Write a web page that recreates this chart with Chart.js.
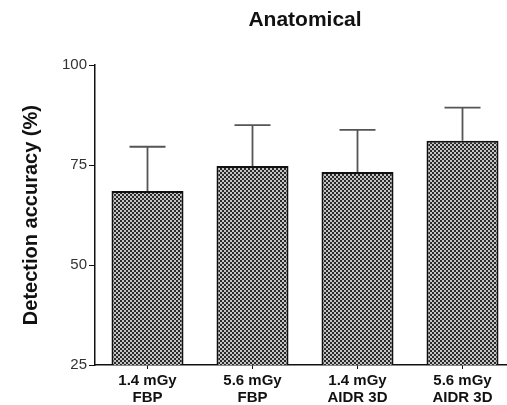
<!DOCTYPE html>
<html>
<head>
<meta charset="utf-8">
<script src="https://cdn.jsdelivr.net/npm/chart.js@4.4.1/dist/chart.umd.min.js"></script>
<style>
  html, body { margin: 0; padding: 0; background: #fff; overflow: hidden; }
  #wrap { width: 520px; height: 405px; }
</style>
</head>
<body>
<div id="wrap"><canvas id="accChart"></canvas></div>
<script>
// chart values
const categories = [['1.4 mGy', 'FBP'], ['5.6 mGy', 'FBP'], ['1.4 mGy', 'AIDR 3D'], ['5.6 mGy', 'AIDR 3D']];
const accuracy = [68.5, 74.8, 73.3, 81.1];
const errorUp = [11.1, 10.2, 10.5, 8.3];
const yTicks = [25, 50, 75, 100];

Chart.defaults.font.family = "'Liberation Sans', Arial, sans-serif";

// checkered fill like the printed hatch
function makePattern() {
    const c = document.createElement('canvas');
    c.width = 4;
    c.height = 4;
    const g = c.getContext('2d');
    g.fillStyle = '#c4c4c4';
    g.fillRect(0, 0, 4, 4);
    g.fillStyle = '#2a2a2a';
    g.fillRect(0, 0, 2, 2);
    g.fillRect(2, 2, 2, 2);
    return g.createPattern(c, 'repeat');
}

// upper error bars only
const errorBars = {
    id: 'errorBars',
    afterDatasetsDraw(chart) {
        const ctx = chart.ctx;
        const y = chart.scales.y;
        const meta = chart.getDatasetMeta(0);
        ctx.save();
        ctx.strokeStyle = '#555';
        ctx.lineWidth = 1.8;
        meta.data.forEach((bar, i) => {
            const top = y.getPixelForValue(accuracy[i] + errorUp[i]);
            ctx.beginPath();
            ctx.moveTo(bar.x, bar.y);
            ctx.lineTo(bar.x, top);
            ctx.moveTo(bar.x - 18, top);
            ctx.lineTo(bar.x + 18, top);
            ctx.stroke();
        });
        ctx.restore();
    }
};

const ctx = document.getElementById('accChart').getContext('2d');
new Chart(ctx, {
    type: 'bar',
    data: {
        labels: categories,
        datasets: [{
            data: accuracy,
            backgroundColor: makePattern(),
            borderColor: '#111',
            borderWidth: 2,
            borderSkipped: false,
            barPercentage: 0.686,
            categoryPercentage: 1
        }]
    },
    options: {
        responsive: true,
        maintainAspectRatio: false,
        animation: false,
        layout: { padding: { left: 0, right: 5, top: 0, bottom: 0 } },
        plugins: {
            legend: { display: false },
            tooltip: { enabled: false },
            title: {
                display: true,
                text: 'Anatomical',
                fullSize: false,
                color: '#111',
                font: { size: 21, weight: 'bold' },
                padding: { top: 8, bottom: 32 }
            }
        },
        scales: {
            x: {
                afterFit(scale) { scale.height = 40; },
                grid: { display: true, drawOnChartArea: false, offset: false, tickLength: 4, color: '#111' },
                border: { display: true, color: '#111', width: 1.5 },
                ticks: {
                    color: '#111',
                    font: { size: 15, weight: 'bold', lineHeight: 1.15 },
                    padding: 3,
                    maxRotation: 0,
                    autoSkip: false
                }
            },
            y: {
                min: yTicks[0],
                max: yTicks[yTicks.length - 1],
                afterFit(scale) { scale.width = 95; },
                afterBuildTicks(scale) { scale.ticks = yTicks.map(v => ({ value: v })); },
                grid: { display: true, drawOnChartArea: false, tickLength: 6, color: '#111' },
                border: { display: true, color: '#111', width: 1.5 },
                ticks: { color: '#333', font: { size: 15 }, padding: 2 },
                title: {
                    display: true,
                    text: 'Detection accuracy (%)',
                    color: '#111',
                    font: { size: 20, weight: 'bold' },
                    padding: { top: 19, bottom: 0 }
                }
            }
        }
    },
    plugins: [errorBars]
});
</script>
</body>
</html>
